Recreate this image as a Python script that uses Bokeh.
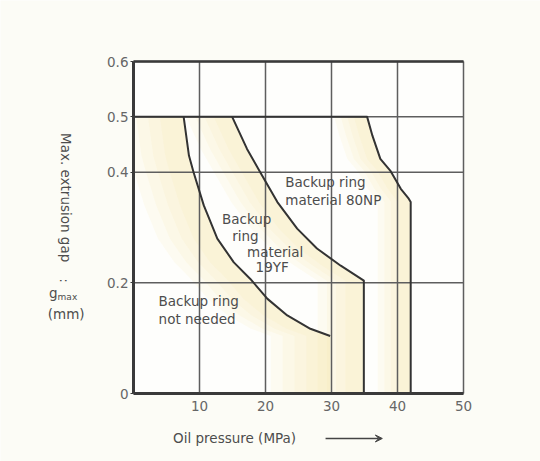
import numpy as np
from bokeh.plotting import figure
from bokeh.models import Range1d, FixedTicker, LinearAxis, Arrow, VeeHead, BoxAnnotation
from bokeh.core.properties import value
from bokeh.embed import file_html
from bokeh.resources import INLINE

# ---- data ----
X_MAX = 50
Y_MAX = 0.6
x_ticks = [10, 20, 30, 40, 50]
y_ticks = [0, 0.2, 0.4, 0.5, 0.6]

# boundary: backup ring not needed (left of this curve)
curve1_x = [7.6, 8.4, 9.1, 10.65, 12.7, 15.2, 17.7, 20.3, 23.3, 26.8, 29.8]
curve1_y = [0.5, 0.43, 0.4, 0.34, 0.28, 0.237, 0.207, 0.171, 0.141, 0.117, 0.104]

# boundary: backup ring material 19YF
curve2_x = [14.95, 17.2, 19.2, 21.8, 24.8, 27.8, 31.4, 34.9, 34.9]
curve2_y = [0.5, 0.442, 0.4, 0.346, 0.298, 0.262, 0.231, 0.204, 0.0]

# boundary: backup ring material 80NP
curve3_x = [0.0, 35.4, 36.2, 37.4, 38.9, 40.5, 41.7, 42.0, 42.0]
curve3_y = [0.5, 0.5, 0.466, 0.424, 0.403, 0.37, 0.352, 0.346, 0.0]

FONT = "DejaVu Sans"
TXT = "#4d4d4d"

p = figure(width=540, height=461, output_backend="svg", toolbar_location=None,
           x_range=Range1d(-20.152, 61.667), y_range=Range1d(-0.1229, 0.7103),
           x_axis_location=None, y_axis_location=None,
           min_border=0)
p.grid.visible = False
p.outline_line_color = None
p.border_fill_color = "#fcfcf6"
p.background_fill_color = "#fcfcf6"

p.add_layout(BoxAnnotation(left=0, right=X_MAX, bottom=0, top=Y_MAX,
                           fill_color="#fefefc", fill_alpha=1, line_color=None,
                           level="underlay"))

# ---- pale yellow shading near each boundary ----
def band(xs, ys, d):
    bx = list(xs) + [x - d for x in reversed(xs)]
    by = list(ys) + list(reversed(ys))
    return bx, by

regions = [
    (curve1_x + [29.8], curve1_y + [0.0], 9.0),
    (curve2_x, curve2_y, 7.0),
    (curve3_x[1:], curve3_y[1:], 5.0),
]
for xs, ys, d in regions:
    for f in (1.0, 0.8, 0.6, 0.4):
        bx, by = band(xs, ys, d * f)
        bx = [max(b, 0) for b in bx]
        p.patch(bx, by, fill_color="#f5e6a8", fill_alpha=0.12, line_color=None)

# ---- grid lines from the tick arrays ----
p.segment(x0=x_ticks, y0=[0] * len(x_ticks), x1=x_ticks, y1=[Y_MAX] * len(x_ticks),
          line_color="#5e5e5e", line_width=1.5)
p.segment(x0=[0] * len(y_ticks), y0=y_ticks, x1=[X_MAX] * len(y_ticks), y1=y_ticks,
          line_color="#5e5e5e", line_width=1.5)

# ---- axes ----
yax = LinearAxis(fixed_location=0, bounds=(0, Y_MAX), ticker=FixedTicker(ticks=y_ticks))
yax.major_label_overrides = {0: "0", 0.2: "0.2", 0.4: "0.4", 0.5: "0.5", 0.6: "0.6"}
xax = LinearAxis(fixed_location=0, bounds=(0, X_MAX), ticker=FixedTicker(ticks=x_ticks))
tax = LinearAxis(fixed_location=Y_MAX, bounds=(0, X_MAX), ticker=FixedTicker(ticks=[]))
tax.major_label_text_font_size = "0px"
for ax in (yax, xax, tax):
    ax.axis_line_width = 3
    ax.axis_line_color = "#3a3a3a"
    ax.major_tick_line_color = "#3a3a3a"
    ax.major_tick_in = 0
    ax.major_tick_out = 3
    ax.minor_tick_line_color = None
    ax.major_label_text_font = FONT
    ax.major_label_text_font_size = "13.5px"
    ax.major_label_text_color = "#666666"
    ax.major_label_standoff = 2
tax.axis_line_width = 2.5
xax.major_tick_line_color = None
xax.major_label_standoff = 4
p.add_layout(yax, "left")
p.add_layout(xax, "below")
p.add_layout(tax, "above")

# ---- boundary curves ----
for cx, cy in [(curve1_x, curve1_y), (curve2_x, curve2_y), (curve3_x, curve3_y)]:
    p.line(cx, cy, line_width=2, line_color="#333333", line_join="round")

# ---- region labels ----
common = dict(text_font=value(FONT), text_font_size="13.5px", text_color=TXT,
              text_baseline="middle", text_align="left")
p.text(x=[3.8, 3.8], y=[0.168, 0.134], text=["Backup ring", "not needed"], **common)
p.text(x=[23.0, 23.0], y=[0.383, 0.349], text=["Backup ring", "material 80NP"], **common)
p.text(x=[13.4, 14.95, 17.2, 18.5], y=[0.316, 0.284, 0.255, 0.229],
       text=["Backup", "ring", "material", "19YF"], **common)

# ---- axis titles ----
p.text(x=[-10.3], y=[0.354], text=["Max. extrusion gap"], angle=-np.pi / 2,
       text_font=value(FONT), text_font_size="13.5px", text_color=TXT,
       text_baseline="middle", text_align="center")
p.text(x=[-10.5], y=[0.204], text=[":"], angle=-np.pi / 2,
       text_font=value(FONT), text_font_size="12px", text_color=TXT,
       text_baseline="middle", text_align="center")
p.text(x=[-11.5], y=[0.1825], text=["g"], text_font=value(FONT),
       text_font_size="13.5px", text_color=TXT, text_baseline="middle", text_align="right")
p.text(x=[-11.5], y=[0.174], text=["max"], text_font=value(FONT),
       text_font_size="9px", text_color=TXT, text_baseline="middle", text_align="left")
p.text(x=[-10.2], y=[0.143], text=["(mm)"], text_font=value(FONT),
       text_font_size="13.5px", text_color=TXT, text_baseline="middle", text_align="center")
p.text(x=[6.0], y=[-0.0813], text=["Oil pressure  (MPa)"], text_font=value(FONT),
       text_font_size="13.5px", text_color=TXT, text_baseline="middle", text_align="left")
p.add_layout(Arrow(x_start=29.1, y_start=-0.0813, x_end=37.7, y_end=-0.0813,
                   line_color="#444444", line_width=1.3,
                   end=VeeHead(size=7, line_color="#444444", fill_color="#444444",
                               line_width=1)))

open("out.html", "w").write(file_html(p, INLINE))
